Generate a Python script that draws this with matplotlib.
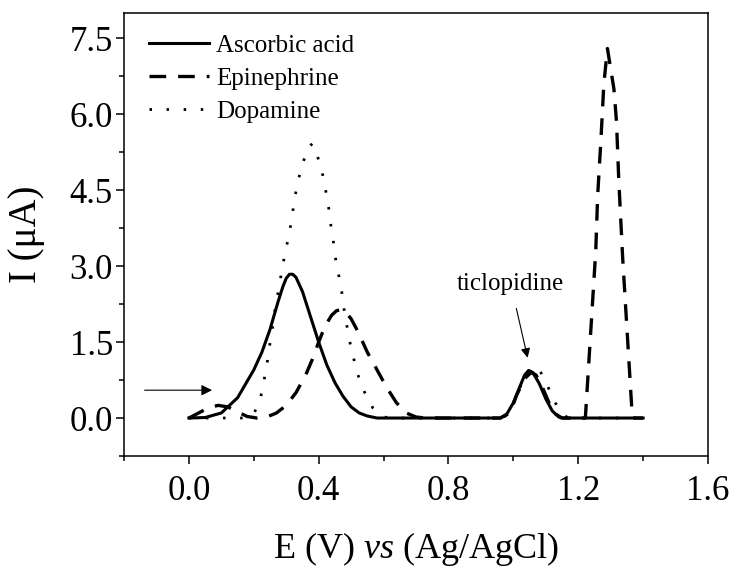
import numpy as np
import matplotlib
matplotlib.use("Agg")
import matplotlib.pyplot as plt

plt.rcParams['font.family'] = ['Liberation Serif', 'DejaVu Serif']
plt.rcParams['mathtext.fontset'] = 'custom'
plt.rcParams['mathtext.rm'] = 'Liberation Serif'
plt.rcParams['mathtext.it'] = 'Liberation Serif:italic'
plt.rcParams['lines.scale_dashes'] = False

# Ascorbic acid (solid)
aa_x = [0.0, 0.05, 0.1, 0.15, 0.2, 0.225, 0.25, 0.275, 0.29, 0.3, 0.31, 0.32, 0.33,
        0.35, 0.375, 0.4, 0.425, 0.45, 0.475, 0.5, 0.525, 0.55, 0.58, 0.96, 0.98,
        1.0, 1.02, 1.035, 1.047, 1.06, 1.08, 1.1, 1.12, 1.14, 1.15, 1.4]
aa_y = [0.0, 0.01, 0.1, 0.4, 0.95, 1.3, 1.75, 2.3, 2.6, 2.76, 2.84, 2.84, 2.78,
        2.5, 2.0, 1.5, 1.05, 0.7, 0.43, 0.22, 0.1, 0.04, 0.0, 0.0, 0.08,
        0.3, 0.62, 0.85, 0.94, 0.9, 0.68, 0.38, 0.14, 0.02, 0.0, 0.0]

# Epinephrine (dashed)
ep_x = [0.0, 0.03, 0.06, 0.09, 0.12, 0.15, 0.18, 0.21, 0.24, 0.27, 0.3, 0.33, 0.36,
        0.38, 0.4, 0.42, 0.44, 0.455, 0.47, 0.485, 0.5, 0.52, 0.55, 0.58, 0.61,
        0.64, 0.67, 0.7, 0.73, 0.96, 0.99, 1.01, 1.035, 1.055, 1.07, 1.09, 1.11,
        1.13, 1.15, 1.222, 1.254, 1.26, 1.27, 1.279, 1.29, 1.31, 1.318, 1.325,
        1.337, 1.365, 1.37, 1.4]
ep_y = [0.0, 0.1, 0.2, 0.25, 0.22, 0.12, 0.03, 0.0, 0.02, 0.1, 0.25, 0.5, 0.85,
        1.15, 1.5, 1.82, 2.03, 2.12, 2.14, 2.08, 1.96, 1.72, 1.3, 0.95, 0.6,
        0.3, 0.1, 0.02, 0.0, 0.0, 0.1, 0.45, 0.78, 0.9, 0.85, 0.6, 0.3,
        0.08, 0.0, 0.0, 3.3, 4.4, 5.5, 6.6, 7.3, 6.5, 5.85, 4.7,
        3.16, 0.2, 0.0, 0.0]

# Dopamine (dotted)
dp_x = [0.0, 0.18, 0.2, 0.22, 0.23, 0.24, 0.247, 0.256, 0.263, 0.272, 0.29, 0.3,
        0.311, 0.319, 0.327, 0.337, 0.35, 0.364, 0.38, 0.395, 0.41, 0.42, 0.43,
        0.436, 0.444, 0.45, 0.46, 0.47, 0.477, 0.494, 0.507, 0.52, 0.54, 0.567,
        0.6, 0.63, 0.96, 0.98, 1.0, 1.02, 1.04, 1.063, 1.08, 1.1, 1.12, 1.15,
        1.17, 1.4]
dp_y = [0.0, 0.0, 0.08, 0.37, 0.69, 1.03, 1.36, 1.7, 2.05, 2.37, 3.04, 3.36,
        3.7, 4.03, 4.37, 4.7, 5.0, 5.3, 5.42, 5.2, 4.88, 4.55, 4.2,
        3.87, 3.56, 3.22, 2.88, 2.55, 2.2, 1.56, 1.2, 0.87, 0.53, 0.2,
        0.02, 0.0, 0.0, 0.05, 0.3, 0.6, 0.85, 1.02, 0.95, 0.73, 0.4, 0.08,
        0.0, 0.0]

fig = plt.figure(figsize=(7.31, 5.68), dpi=100)
ax = fig.add_axes([124/731, 1-456/568, 584/731, 443/568])

ax.plot(aa_x, aa_y, color='black', lw=2.2, label='Ascorbic acid')
ax.plot(ep_x, ep_y, color='black', lw=2.4, dashes=(12, 8.6), label='Epinephrine')
ax.plot(dp_x, dp_y, color='black', lw=2.0, dashes=(1.8, 10.5), label='Dopamine')

ax.annotate('', xy=(0.08, 0.55), xytext=(-0.145, 0.55),
            arrowprops=dict(arrowstyle='-|>', color='black', lw=0.8,
                            mutation_scale=16))
ax.annotate('ticlopidine', xy=(1.044, 1.19), xytext=(0.992, 2.65),
            ha='center', va='center', fontsize=18,
            arrowprops=dict(arrowstyle='-|>', color='black', lw=0.8,
                            mutation_scale=14, shrinkA=8, shrinkB=0))

ax.set_xlim(-0.2, 1.6)
ax.set_ylim(-0.75, 8.0)
ax.set_xticks([0.0, 0.4, 0.8, 1.2, 1.6])
ax.set_xticks(np.arange(-0.2, 1.61, 0.2), minor=True)
ax.set_yticks([0.0, 1.5, 3.0, 4.5, 6.0, 7.5])
ax.set_yticks(np.arange(-0.75, 8.0, 0.75), minor=True)
ax.xaxis.set_major_formatter(matplotlib.ticker.FormatStrFormatter('%.1f'))
ax.yaxis.set_major_formatter(matplotlib.ticker.FormatStrFormatter('%.1f'))
ax.tick_params(which='major', direction='out', length=6, width=1.1, labelsize=25)
ax.tick_params(axis='x', which='major', pad=8)
ax.tick_params(axis='y', which='major', pad=2)
ax.tick_params(which='minor', direction='out', length=3.5, width=1.1)
for s in ax.spines.values():
    s.set_linewidth(1.1)

ax.set_xlabel(r'E (V) $\it{vs}$ (Ag/AgCl)', fontsize=26)
ax.set_ylabel('I (\u03bcA)', fontsize=28)
ax.xaxis.set_label_coords(0.5, -0.168)
ax.yaxis.set_label_coords(-0.135, 0.5)

ax.legend(loc='upper left', frameon=False, fontsize=18, handlelength=2.4,
          handletextpad=0.3, labelspacing=0.42, borderaxespad=0.0,
          bbox_to_anchor=(0.025, 0.975))

fig.savefig('out.png', dpi=100)
